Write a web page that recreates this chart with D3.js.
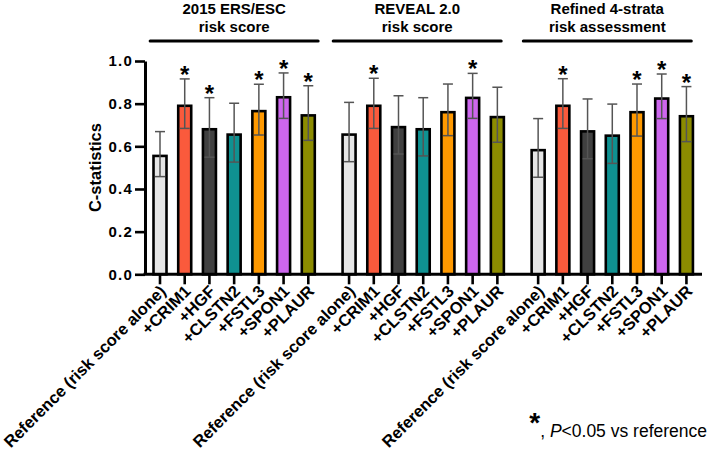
<!DOCTYPE html>
<html lang="en">
<head>
<meta charset="utf-8">
<style>
  html, body { margin: 0; padding: 0; background: #fff; }
  svg { font-family: Arial, "Liberation Sans", Helvetica, sans-serif; }
  .yaxis text { font-size: 15px; font-weight: bold; letter-spacing: 1.2px; fill: #000; }
</style>
</head>
<body>
<script src="https://cdnjs.cloudflare.com/ajax/libs/d3/7.8.5/d3.min.js"></script>
<script>
// bar categories (same in every group)
var markers = ["Reference (risk score alone)", "+CRIM1", "+HGF", "+CLSTN2", "+FSTL3", "+SPON1", "+PLAUR"];
var colors = ["#e6e6e6", "#fa5a3c", "#404040", "#0f9191", "#ff9900", "#cd66ee", "#8c8c00"];

// groups (two header lines each)
var groupTitles = [["2015 ERS/ESC", "risk score"], ["REVEAL 2.0", "risk score"], ["Refined 4-strata", "risk assessment"]];

// C-statistics, with lower / upper ends of the error bars
var ersValues = [0.555, 0.79, 0.68, 0.655, 0.765, 0.83, 0.745];
var ersLower  = [0.458, 0.684, 0.549, 0.526, 0.653, 0.731, 0.628];
var ersUpper  = [0.669, 0.916, 0.828, 0.802, 0.891, 0.944, 0.884];
var ersSig    = [0, 1, 1, 0, 1, 1, 1];

var revealValues = [0.655, 0.79, 0.69, 0.68, 0.76, 0.827, 0.737];
var revealLower  = [0.528, 0.684, 0.564, 0.555, 0.650, 0.731, 0.619];
var revealUpper  = [0.806, 0.919, 0.837, 0.828, 0.892, 0.942, 0.877];
var revealSig    = [0, 1, 0, 0, 0, 1, 0];

var strataValues = [0.582, 0.79, 0.67, 0.65, 0.76, 0.824, 0.741];
var strataLower  = [0.455, 0.684, 0.542, 0.520, 0.648, 0.730, 0.622];
var strataUpper  = [0.730, 0.917, 0.822, 0.798, 0.892, 0.939, 0.880];
var strataSig    = [0, 1, 0, 0, 1, 1, 1];

var yTicks = [0, 0.2, 0.4, 0.6, 0.8, 1.0];

var groups = [
  {values: ersValues, lower: ersLower, upper: ersUpper, sig: ersSig},
  {values: revealValues, lower: revealLower, upper: revealUpper, sig: revealSig},
  {values: strataValues, lower: strataLower, upper: strataUpper, sig: strataSig}
];

// flatten to one row per bar
var data = [];
groups.forEach(function(g, gi) {
  markers.forEach(function(m, i) {
    data.push({group: gi, i: i, name: m, value: g.values[i], lo: g.lower[i], hi: g.upper[i], sig: g.sig[i]});
  });
});

var width = 709, height = 457;
var groupStep = 7.65;   // slots per group, incl. the gap
var barW = 13;

var svg = d3.select("body").append("svg")
  .attr("width", width)
  .attr("height", height);

var x = d3.scaleLinear()
  .domain([-0.607, 2 * groupStep + 6.63])
  .range([145, 702]);
var y = d3.scaleLinear()
  .domain([0, 1])
  .range([274.3, 61]);

var slot = d => x(d.group * groupStep + d.i);

// bars
svg.selectAll("rect.bar")
  .data(data)
  .enter().append("rect")
  .attr("class", "bar")
  .attr("x", d => slot(d) - barW / 2)
  .attr("y", d => y(d.value))
  .attr("width", barW)
  .attr("height", d => y(0) - y(d.value))
  .attr("fill", (d) => colors[d.i])
  .attr("stroke", "#000")
  .attr("stroke-width", 2.6);

// error bars
var err = svg.selectAll("g.err")
  .data(data)
  .enter().append("g")
  .attr("class", "err")
  .attr("stroke", "#555")
  .attr("stroke-width", 1.5);
err.append("line")
  .attr("x1", d => slot(d)).attr("x2", d => slot(d))
  .attr("y1", d => y(d.lo)).attr("y2", d => y(d.hi));
err.append("line")
  .attr("x1", d => slot(d) - 5).attr("x2", d => slot(d) + 5)
  .attr("y1", d => y(d.hi)).attr("y2", d => y(d.hi));
err.append("line")
  .attr("x1", d => slot(d) - 5).attr("x2", d => slot(d) + 5)
  .attr("y1", d => y(d.lo)).attr("y2", d => y(d.lo));

// significance stars
svg.selectAll("text.star")
  .data(data.filter(d => d.sig))
  .enter().append("text")
  .attr("class", "star")
  .attr("x", d => slot(d))
  .attr("y", d => y(d.hi) + 4)
  .attr("text-anchor", "middle")
  .attr("font-size", "24px")
  .attr("font-weight", "bold")
  .text("*");

// y axis
var yAxis = svg.append("g")
  .attr("class", "yaxis")
  .attr("transform", "translate(" + x.range()[0] + ",0)")
  .call(d3.axisLeft(y).tickValues(yTicks).tickFormat(d3.format(".1f")).tickSize(10).tickSizeOuter(0).tickPadding(2));
yAxis.select(".domain").attr("stroke", "#000").attr("stroke-width", 3);
yAxis.selectAll(".tick line").attr("stroke", "#000").attr("stroke-width", 2.6);

// x axis line + ticks
svg.append("line")
  .attr("x1", x.range()[0] - 1.5).attr("x2", x.range()[1])
  .attr("y1", y(0)).attr("y2", y(0))
  .attr("stroke", "#000").attr("stroke-width", 3);
svg.selectAll("line.xtick")
  .data(data)
  .enter().append("line")
  .attr("class", "xtick")
  .attr("x1", d => slot(d)).attr("x2", d => slot(d))
  .attr("y1", y(0)).attr("y2", y(0) + 10)
  .attr("stroke", "#000").attr("stroke-width", 2.6);

// x labels, rotated
svg.selectAll("text.xlab")
  .data(data)
  .enter().append("text")
  .attr("class", "xlab")
  .attr("transform", d => "translate(" + (slot(d) + 7) + "," + (y(0) + 18) + ") rotate(-45)")
  .attr("text-anchor", "end")
  .attr("font-size", "16.5px")
  .attr("font-weight", "bold")
  .text(d => d.name);

// y title
svg.append("text")
  .attr("transform", "translate(101," + (y(0) + y(1)) / 2 + ") rotate(-90)")
  .attr("text-anchor", "middle")
  .attr("font-size", "16.5px")
  .attr("font-weight", "bold")
  .text("C-statistics");

// group headers
var headerShift = [0, -6, -5];
var head = svg.selectAll("g.head")
  .data(groupTitles)
  .enter().append("g")
  .attr("class", "head")
  .attr("transform", (d, gi) => {
    var c = (x(gi * groupStep) + x(gi * groupStep + 6)) / 2 + headerShift[gi];
    return "translate(" + c + ",0)";
  });
head.append("line")
  .attr("x1", -84).attr("x2", 84)
  .attr("y1", 41).attr("y2", 41)
  .attr("stroke", "#000").attr("stroke-width", 3)
  .attr("stroke-linecap", "round");
head.append("text")
  .attr("y", 14)
  .attr("text-anchor", "middle")
  .attr("font-size", "15px")
  .attr("font-weight", "bold")
  .text(d => d[0]);
head.append("text")
  .attr("y", 31.5)
  .attr("text-anchor", "middle")
  .attr("font-size", "15px")
  .attr("font-weight", "bold")
  .text(d => d[1]);

// footnote
var note = svg.append("text")
  .attr("x", 707)
  .attr("y", 437)
  .attr("text-anchor", "end")
  .attr("font-size", "17.5px");
note.append("tspan").attr("font-weight", "bold").attr("font-size", "28px").attr("dy", -5).text("*");
note.append("tspan").attr("dy", 5).text(", ");
note.append("tspan").attr("font-style", "italic").text("P");
note.append("tspan").text("<0.05 vs reference");
</script>
</body>
</html>
